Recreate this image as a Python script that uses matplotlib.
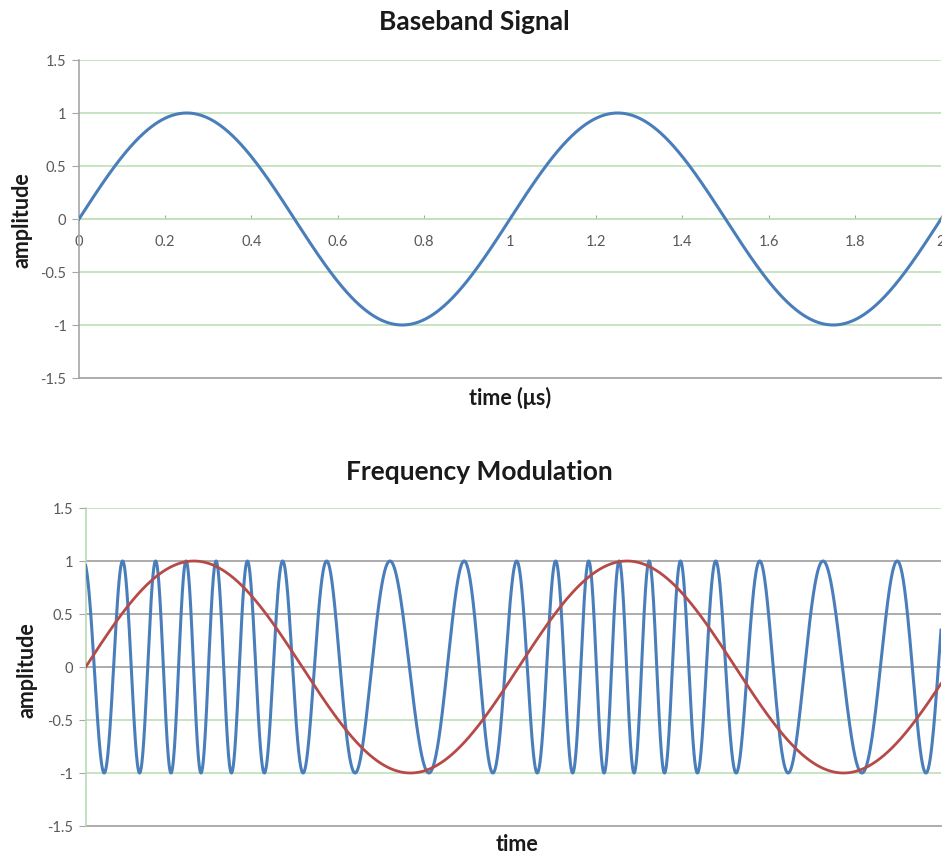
import numpy as np
import matplotlib
matplotlib.use("Agg")
import matplotlib.pyplot as plt

plt.rcParams['font.family'] = ['Lato', 'DejaVu Sans']

# --- values ---
# baseband: 1 cycle per microsecond, shown over 0..2 us
baseband_freq = 1.0
top_t_end = 2.0
top_xticks = [0, 0.2, 0.4, 0.6, 0.8, 1, 1.2, 1.4, 1.6, 1.8, 2]
yticks = [-1.5, -1, -0.5, 0, 0.5, 1, 1.5]

# FM panel: carrier ~10 cycles per baseband cycle, deviation ~4.5,
# small start phase, time axis ends just before 2 baseband periods
fm_carrier = 10.0
fm_deviation = 4.5
fm_phase0 = 0.3
fm_t_end = 1.975

green = '#c4e0bf'
grey = '#a6a6a6'
blue = '#4a7ebb'
red = '#b64a48'
tick_col = '#595959'

fig = plt.figure(figsize=(9.42, 8.54), dpi=100)
W, H = 942, 854

# ---------- Baseband Signal ----------
ax1 = fig.add_axes([79 / W, 1 - 379 / H, 862 / W, 318 / H])
t1 = np.linspace(0, top_t_end, 1000)
base1 = np.sin(2 * np.pi * baseband_freq * t1)

for y in yticks[1:]:
    ax1.axhline(y, color=green, lw=1.3, zorder=1)
ax1.axhline(-1.5, color=grey, lw=1.3, zorder=1, clip_on=False)
ax1.plot(t1, base1, color=blue, lw=2.2, zorder=3)

ax1.set_xlim(0, top_t_end)
ax1.set_ylim(-1.5, 1.5)
ax1.set_xticks(top_xticks)
ax1.set_xticklabels([f'{v:g}' for v in top_xticks])
ax1.set_yticks(yticks)
ax1.set_yticklabels([f'{v:g}' for v in yticks])
for s in ['top', 'right']:
    ax1.spines[s].set_visible(False)
ax1.spines['bottom'].set_position(('data', 0))
ax1.spines['bottom'].set_color(green)
ax1.spines['bottom'].set_linewidth(1.3)
ax1.spines['left'].set_color(grey)
ax1.spines['left'].set_linewidth(1.2)
ax1.tick_params(axis='x', direction='in', length=3, color=grey, pad=11,
                labelsize=10.5, labelcolor=tick_col)
ax1.tick_params(axis='y', direction='out', length=5, color=grey, pad=4,
                labelsize=10.5, labelcolor=tick_col)

fig.text(474 / W, 1 - 22 / H, 'Baseband Signal', ha='center', va='center',
         fontsize=19, fontweight='bold', color='#1a1a1a')
fig.text(510 / W, 1 - 398 / H, 'time (μs)', ha='center', va='center',
         fontsize=15.5, fontweight='bold', color='#1a1a1a')
fig.text(22 / W, 1 - 220 / H, 'amplitude', ha='center', va='center',
         rotation=90, fontsize=15.5, fontweight='bold', color='#1a1a1a')

# ---------- Frequency Modulation ----------
ax2 = fig.add_axes([85.7 / W, 1 - 827 / H, 855.3 / W, 318 / H])
t2 = np.linspace(0, fm_t_end, 4000)
msg = np.sin(2 * np.pi * baseband_freq * t2)
phase = 2 * np.pi * fm_carrier * t2 + fm_deviation * (1 - np.cos(2 * np.pi * baseband_freq * t2))
fm = np.cos(phase + fm_phase0)

bottom_grid = {1.5: green, 1: grey, 0.5: grey, 0: grey, -0.5: green, -1: green}
for y, c in bottom_grid.items():
    ax2.axhline(y, color=c, lw=1.3, zorder=1)
ax2.axhline(-1.5, color=grey, lw=1.3, zorder=1, clip_on=False)
ax2.plot(t2, fm, color=blue, lw=2.2, zorder=3)
ax2.plot(t2, msg, color=red, lw=2.0, zorder=4)

ax2.set_xlim(0, fm_t_end)
ax2.set_ylim(-1.5, 1.5)
ax2.set_xticks([])
ax2.set_yticks(yticks)
ax2.set_yticklabels([f'{v:g}' for v in yticks])
for s in ['top', 'right', 'bottom']:
    ax2.spines[s].set_visible(False)
ax2.spines['left'].set_color('#b8d8b4')
ax2.spines['left'].set_linewidth(1.2)
ax2.tick_params(axis='y', direction='out', length=5, color=grey, pad=4,
                labelsize=10.5, labelcolor=tick_col)

fig.text(479 / W, 1 - 472 / H, 'Frequency Modulation', ha='center', va='center',
         fontsize=19, fontweight='bold', color='#1a1a1a')
fig.text(517 / W, 1 - 845 / H, 'time', ha='center', va='center',
         fontsize=15.5, fontweight='bold', color='#1a1a1a')
fig.text(27 / W, 1 - 670 / H, 'amplitude', ha='center', va='center',
         rotation=90, fontsize=15.5, fontweight='bold', color='#1a1a1a')

fig.savefig('out.png', dpi=100)
